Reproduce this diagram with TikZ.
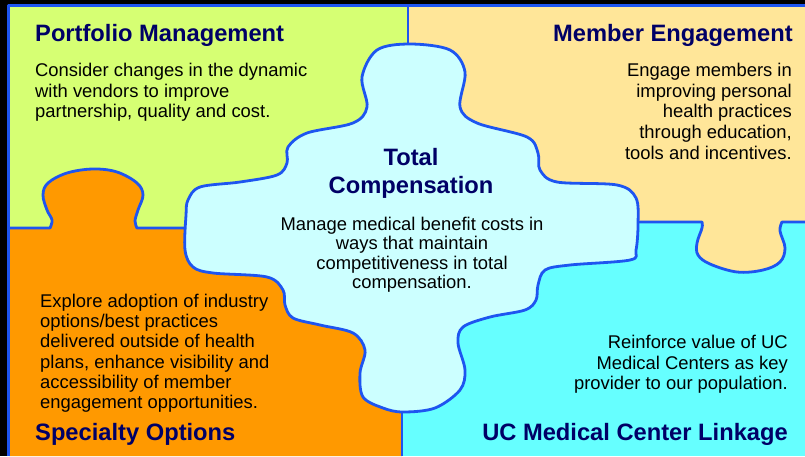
\documentclass[tikz,border=0pt]{standalone}
\usepackage{fontspec}
\setmainfont{Liberation Sans}
\usepackage{xcolor}
\usepackage{tikz}
\usetikzlibrary{positioning}
\definecolor{pmGreen}{RGB}{214,255,115}
\definecolor{meYellow}{RGB}{255,230,153}
\definecolor{soOrange}{RGB}{255,153,0}
\definecolor{ucCyan}{RGB}{102,255,255}
\definecolor{tcCyan}{RGB}{204,255,255}
\definecolor{edgeBlue}{RGB}{30,85,240}
\definecolor{titleNavy}{RGB}{0,0,102}
\tikzset{
    seam/.style={
        draw=edgeBlue,
        line width=2.8pt,
        line join=round,
    },
    headline/.style={
        inner sep=0pt,
        text=titleNavy,
        font=\fontsize{23.7}{28}\selectfont\bfseries,
    },
    blurb/.style={
        inner sep=0pt,
        text=black,
        font=\fontsize{18.4}{20.8}\selectfont,
    },
}

\begin{document}
\begin{tikzpicture}[x=1pt, y=-1pt]
      \useasboundingbox (0,0) rectangle (805,456);
      \fill[black] (0,0) rectangle (805,456);

      % the four quarters
      \fill[pmGreen] (8.5,5.5) rectangle (408,228);
      \fill[meYellow] (408,5.5) rectangle (805,222);
      \fill[ucCyan] (402,222) rectangle (805,456);
      \fill[soOrange] (8.5,456) -- (8.5,228) -- (50,228)
          -- plot[smooth, tension=0.6] coordinates {(50,228) (52,220) (47,210) (43,195) (48,183) (67,173) (93,169) (117,172) (137,183) (143,195) (138,210) (135,221) (137,228)}
          -- (402,228) -- (402,456) -- cycle;
      \fill[meYellow] (702,222)
          -- plot[smooth, tension=0.6] coordinates {(702,222) (702,228) (697,243) (698,255) (710,264) (737,272) (763,270) (780,262) (785,248) (780,231) (782,222)}
          -- cycle;

      % seams between the quarters
      \draw[seam] (8.5,456) -- (8.5,5.5) -- (805,5.5);
      \draw[seam] (408,5.5) -- (408,60);
      \draw[seam] (402,400) -- (402,456);
      \draw[seam] (8.5,228) -- (50,228)
          -- plot[smooth, tension=0.6] coordinates {(50,228) (52,220) (47,210) (43,195) (48,183) (67,173) (93,169) (117,172) (137,183) (143,195) (138,210) (135,221) (137,228)}
          -- (200,228);
      \draw[seam] (620,222) -- (702,222)
          -- plot[smooth, tension=0.6] coordinates {(702,222) (702,228) (697,243) (698,255) (710,264) (737,272) (763,270) (780,262) (785,248) (780,231) (782,222)}
          -- (805,222);

      % centre piece
      \filldraw[seam, fill=tcCyan] plot[smooth cycle, tension=0.55] coordinates {
          (410,44) (450,50) (465,72) (460,107) (477,123) (527,137) (538,153) (540,170)
          (557,182) (617,185) (636,198) (638,225) (636,250) (630,260) (570,265) (545,270)
          (538,285) (536,300) (525,310) (490,317) (463,327) (458,343) (465,370) (460,390)
          (435,408) (403,412) (383,408) (363,397) (360,373) (365,350) (353,333) (320,325)
          (293,318) (285,305) (283,290) (267,277) (213,273) (193,267) (185,250) (186,215)
          (188,200) (200,187) (240,182) (277,175) (287,163) (288,147) (307,133) (353,123)
          (367,107) (362,77) (377,50)};

      % texts
      \node[headline, anchor=base west] (pmTitle) at (35,41) {Portfolio Management};
      \node[blurb, anchor=north west, align=left] (pmText) at (35,62.7)
          {Consider changes in the dynamic\\with vendors to improve\\partnership, quality and cost.};

      \node[headline, anchor=base east] (meTitle) at (793,41) {Member Engagement};
      \node[blurb, anchor=north east, align=right] (meText) at (792,62.7)
          {Engage members in\\improving personal\\health practices\\through education,\\tools and incentives.};

      \node[headline, anchor=north, align=center] (tcTitle) at (411,148) {Total\\Compensation};
      \node[blurb, anchor=north, align=center, font=\fontsize{18.4}{19.5}\selectfont] (tcText) at (412,216.7)
          {Manage medical benefit costs in\\ways that maintain\\competitiveness in total\\compensation.};

      \node[blurb, anchor=north west, align=left, font=\fontsize{18.4}{20.3}\selectfont] (soText) at (40,293.7)
          {Explore adoption of industry\\options/best practices\\delivered outside of health\\plans, enhance visibility and\\accessibility of member\\engagement opportunities.};
      \node[headline, anchor=base west] (soTitle) at (35,440) {Specialty Options};

      \node[blurb, anchor=north east, align=right] (ucText) at (788,334.7)
          {Reinforce value of UC\\Medical Centers as key\\provider to our population.};
      \node[headline, anchor=base east] (ucTitle) at (788,440) {UC Medical Center Linkage};
\end{tikzpicture}
\end{document}
